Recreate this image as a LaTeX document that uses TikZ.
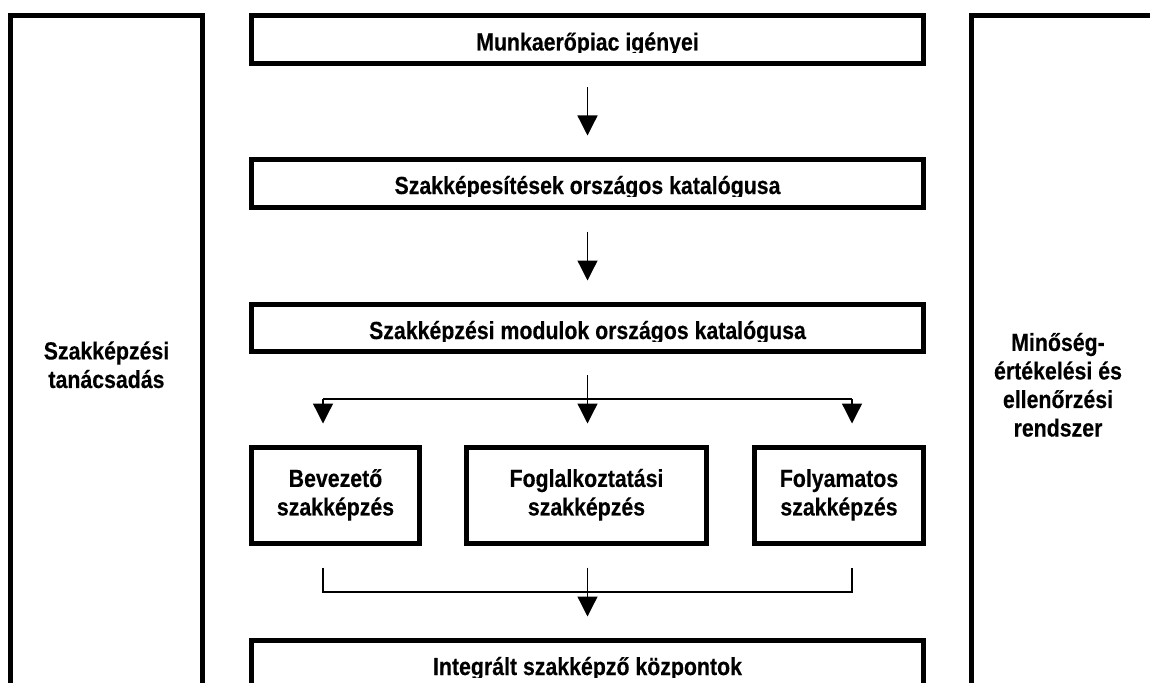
\documentclass[tikz,border=0pt]{standalone}
\usepackage{fontspec}
\setmainfont{Liberation Sans}[BoldFeatures={FakeBold=0.35}]
\usepackage{graphicx}
\usetikzlibrary{arrows.meta}
% slightly tall lettering
\newcommand\tall[1]{\scalebox{1}[1.16]{#1}}
\newcommand\lines[1]{\tall{\begin{tabular}{@{}c@{}}#1\end{tabular}}}

\begin{document}
\begin{tikzpicture}[x=1pt,y=-1pt,
  panel/.style={draw=black, line width=5pt, rectangle, inner sep=0pt, outer sep=0pt},
  txt/.style={font=\fontsize{21.3}{24.6}\selectfont\bfseries, inner sep=0pt, align=center},
  conn/.style={draw=black, line width=1.3pt},
  arr/.style={conn, -{Triangle[width=20pt,length=20pt]}, shorten <=24pt, shorten >=24pt}]
\useasboundingbox (0,0) rectangle (1150,682);
\clip (0,0) rectangle (1150,682);

% side columns
\node[panel, minimum width=192pt, minimum height=704pt] (tanacs) at (106.5,368) {};
\node[txt] (tanacstxt) at (106.5,368) {\lines{Szakképzési\\tanácsadás}};
\node[panel, minimum width=228.5pt, minimum height=704pt] (minoseg) at (1085.75,368) {};
\node[txt] (minosegtxt) at (1058,388) {\lines{Minőség-\\értékelési és\\ellenőrzési\\rendszer}};

% wide boxes of the main column
\node[panel, minimum width=672pt, minimum height=47.5pt] (munka) at (587.5,39.75) {};
\node[panel, minimum width=672pt, minimum height=48pt] (katalog) at (587.5,183.5) {};
\node[panel, minimum width=672pt, minimum height=46.5pt] (modul) at (587.5,327.75) {};
\node[panel, minimum width=672pt, minimum height=79.5pt] (integr) at (587.5,680.25) {};

% captions of the wide boxes, cut off at their lower edge
\begin{scope}
  \clip (254,20) rectangle (921,53);
  \node[txt, anchor=base] (munkatxt) at (587.5,50.5) {\tall{Munkaerőpiac igényei}};
\end{scope}
\begin{scope}
  \clip (254,163) rectangle (921,196.5);
  \node[txt, anchor=base] (katalogtxt) at (587.5,194) {\tall{Szakképesítések országos katalógusa}};
\end{scope}
\begin{scope}
  \clip (254,308) rectangle (921,341.5);
  \node[txt, anchor=base] (modultxt) at (587.5,339) {\tall{Szakképzési modulok országos katalógusa}};
\end{scope}
\begin{scope}
  \clip (254,644) rectangle (921,677.5);
  \node[txt, anchor=base] (integrtxt) at (587.5,675) {\tall{Integrált szakképző központok}};
\end{scope}

% the three kinds of training
\node[panel, txt, minimum width=168pt, minimum height=96pt] (bev) at (335.5,495.5) {\lines{Bevezető\\szakképzés}};
\node[panel, txt, minimum width=240pt, minimum height=96pt] (fog) at (586.5,495.5) {\lines{Foglalkoztatási\\szakképzés}};
\node[panel, txt, minimum width=169pt, minimum height=96pt] (fol) at (839,495.5) {\lines{Folyamatos\\szakképzés}};

% straight arrows
\draw[arr] (munka) -- (katalog);
\draw[arr] (katalog) -- (modul);
\draw[arr] (modul.south) -- (modul.south |- fog.north);

% split into three branches
\coordinate (bl) at (323,399);
\coordinate (br) at (852,399);
\draw[conn] (bl) -- (br);
\draw[arr, shorten <=0pt] (bl) -- (bl |- bev.north);
\draw[arr, shorten <=0pt] (br) -- (br |- fol.north);

% merge into the centres
\coordinate (ml) at (323,592);
\coordinate (mr) at (852,592);
\draw[conn, shorten <=24pt, shorten >=24pt] (ml |- bev.south) -- (ml) -- (mr) -- (mr |- fol.south);
\draw[arr] (modul.south |- fog.south) -- (modul.south |- integr.north);
\end{tikzpicture}
\end{document}
